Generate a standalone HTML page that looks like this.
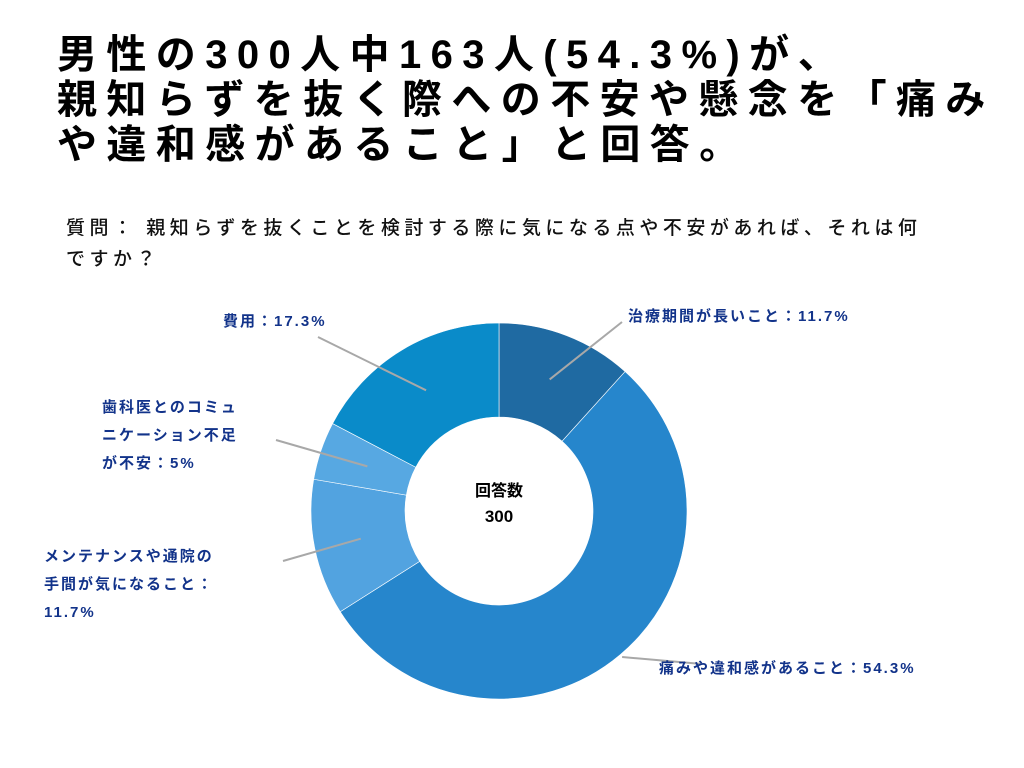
<!DOCTYPE html>
<html><head><meta charset="utf-8"><style>
body{margin:0;width:1024px;height:768px;background:#fff;overflow:hidden;position:relative;font-family:"Liberation Sans","Noto Sans CJK JP",sans-serif}
.t{position:absolute;left:57px;top:33px;font-size:40px;font-weight:700;line-height:45px;letter-spacing:9.4px;color:#000;white-space:nowrap}
.q{position:absolute;left:66px;top:213px;font-size:19px;line-height:31px;letter-spacing:4.5px;color:#111;font-weight:500;white-space:nowrap}
.l{position:absolute;font-size:15px;font-weight:700;color:#12338a;letter-spacing:2px;line-height:28px;white-space:nowrap}
</style></head><body>
<div class="t">男性の300人中163人(54.3%)が、<br>親知らずを抜く際への不安や懸念を「痛み<br>や違和感があること」と回答。</div>
<div class="q">質問： 親知らずを抜くことを検討する際に気になる点や不安があれば、それは何<br>ですか？</div>
<svg width="1024" height="768" style="position:absolute;left:0;top:0">
<g id="slices"></g><g id="leaders"></g>
<text x="499" y="496" text-anchor="middle" font-size="16" font-weight="700" font-family="Liberation Sans, Noto Sans CJK JP, sans-serif">回答数</text>
<text x="499" y="522" text-anchor="middle" font-size="17" font-weight="700" font-family="Liberation Sans, sans-serif">300</text>
</svg>
<div class="l" style="left:628px;top:303px">治療期間が長いこと：11.7%</div>
<div class="l" style="left:659px;top:655px">痛みや違和感があること：54.3%</div>
<div class="l" style="left:44px;top:543px">メンテナンスや通院の<br>手間が気になること：<br>11.7%</div>
<div class="l" style="left:102px;top:394px">歯科医とのコミュ<br>ニケーション不足<br>が不安：5%</div>
<div class="l" style="left:223px;top:308px">費用：17.3%</div>
<script>
const categories=["治療期間が長いこと","痛みや違和感があること","メンテナンスや通院の手間","歯科医とのコミュニケーション不足","費用"];
const values=[11.7,54.3,11.7,5,17.3];
const colors=["#1f6aa2","#2686cc","#52a3e0","#57a8e2","#0a8bc9"];
const leaderEnds=[[622,322],[702,664],[283,561],[276,440],[318,337]];
const cx=499,cy=511,R=188,r=94;
const tot=values.reduce((a,b)=>a+b,0);
const ns="http://www.w3.org/2000/svg";
const sg=document.getElementById('slices'),lg=document.getElementById('leaders');
function pt(a,rad){return [cx+rad*Math.sin(a),cy-rad*Math.cos(a)];}
let acc=0;
values.forEach((v,i)=>{
 const a0=acc/tot*2*Math.PI;acc+=v;const a1=acc/tot*2*Math.PI;
 const big=a1-a0>Math.PI?1:0;
 const p0=pt(a0,R),p1=pt(a1,R),q1=pt(a1,r),q0=pt(a0,r);
 const p=document.createElementNS(ns,'path');
 p.setAttribute('d',`M${p0}L${p0}A${R},${R} 0 ${big} 1 ${p1}L${q1}A${r},${r} 0 ${big} 0 ${q0}Z`.replace(/,(?=[\d.-]+[A-Z ]|[\d.-]+$)/g,' '));
 p.setAttribute('d',`M${p0[0]},${p0[1]} A${R},${R} 0 ${big} 1 ${p1[0]},${p1[1]} L${q1[0]},${q1[1]} A${r},${r} 0 ${big} 0 ${q0[0]},${q0[1]} Z`);
 p.setAttribute('fill',colors[i]);p.setAttribute('stroke','#fff');p.setAttribute('stroke-width','0.6');
 
 
 sg.appendChild(p);
 const m=pt((a0+a1)/2,(R+r)/2+(i==1?50:i==3?-2:0));
 const ln=document.createElementNS(ns,'line');
 ln.setAttribute('x1',m[0]);ln.setAttribute('y1',m[1]);ln.setAttribute('x2',leaderEnds[i][0]);ln.setAttribute('y2',leaderEnds[i][1]);
 ln.setAttribute('stroke','#a8a8a8');ln.setAttribute('stroke-width','2');
 
 
 lg.appendChild(ln);
});
</script>
</body></html>
